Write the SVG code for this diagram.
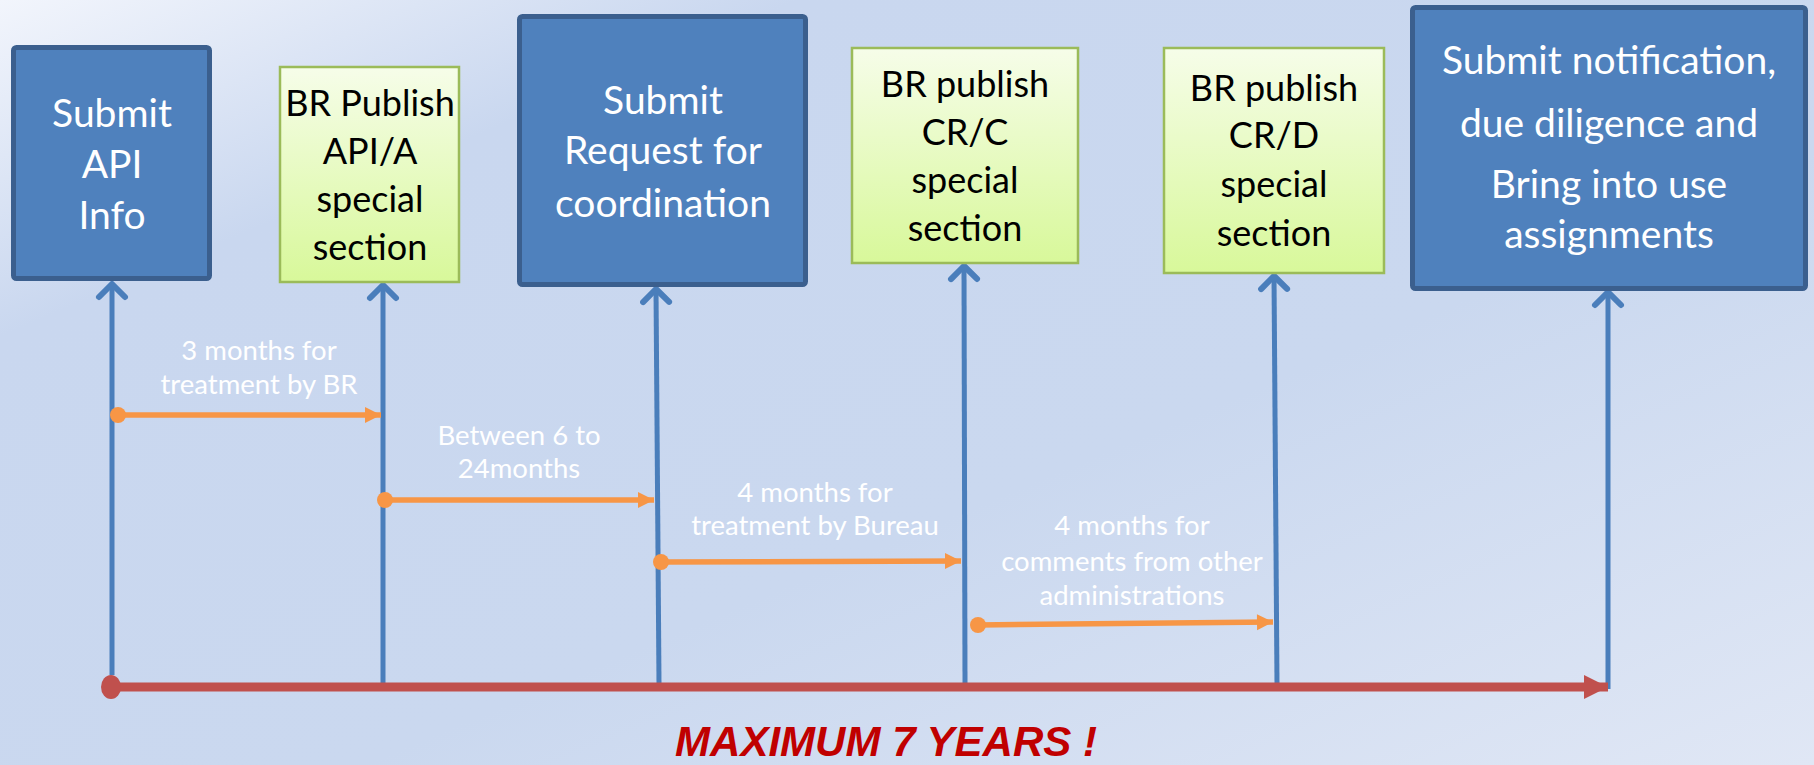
<svg xmlns="http://www.w3.org/2000/svg" width="1814" height="765" viewBox="0 0 1814 765">
<defs>
<linearGradient id="bg" x1="0" y1="0" x2="1" y2="1">
<stop offset="0" stop-color="#f2f5fc"/>
<stop offset="0.22" stop-color="#c9d7ef"/>
<stop offset="0.6" stop-color="#cad8ef"/>
<stop offset="1" stop-color="#e0e7f5"/>
</linearGradient>
<linearGradient id="gr" x1="0" y1="0" x2="0" y2="1">
<stop offset="0" stop-color="#f6fde9"/>
<stop offset="1" stop-color="#d8f89a"/>
</linearGradient>
<marker id="vh" markerUnits="userSpaceOnUse" viewBox="-16 -4 32 28" refX="0" refY="0" markerWidth="32" markerHeight="28" orient="auto-start-reverse" overflow="visible">
<path d="M-13,13 L0,0 L13,13" fill="none" stroke="#4a7ebb" stroke-width="6" stroke-linecap="round" stroke-linejoin="round" transform="rotate(90)"/>
</marker>
<marker id="oh" markerUnits="userSpaceOnUse" viewBox="-16 -9 17 18" refX="0" refY="0" markerWidth="17" markerHeight="18" orient="auto" overflow="visible">
<path d="M-16,-8 L0,0 L-16,8 Z" fill="#f79646"/>
</marker>
<marker id="rh" markerUnits="userSpaceOnUse" viewBox="-24 -13 25 26" refX="0" refY="0" markerWidth="25" markerHeight="26" orient="auto" overflow="visible">
<path d="M-24,-12 L0,0 L-24,12 Z" fill="#c0504d"/>
</marker>
<style>
.blue{fill:#4f81bd;stroke:#3b5f8e;stroke-width:5}
.green{fill:url(#gr);stroke:#9bbb59;stroke-width:2.5}
.bt{font-family:Lato,"Open Sans","Liberation Sans",sans-serif;font-size:39px;fill:#ffffff;text-anchor:middle}
.gt{font-family:Lato,"Open Sans","Liberation Sans",sans-serif;font-size:36px;fill:#000000;text-anchor:middle}
.lt{font-family:Lato,"Open Sans","Liberation Sans",sans-serif;font-size:27.5px;fill:#ffffff;text-anchor:middle}
.vl{stroke:#4a7ebb;stroke-width:5;fill:none}
.ol{stroke:#f79646;stroke-width:5.5;fill:none}
</style>
</defs>
<rect x="0" y="0" width="1814" height="765" fill="url(#bg)"/>

<g id="connectors">
<line class="vl" x1="112" y1="675" x2="112" y2="284" marker-end="url(#vh)"/>
<line class="vl" x1="383" y1="683" x2="383" y2="285" marker-end="url(#vh)"/>
<line class="vl" x1="659" y1="683" x2="656" y2="289" marker-end="url(#vh)"/>
<line class="vl" x1="965" y1="683" x2="964" y2="266" marker-end="url(#vh)"/>
<line class="vl" x1="1277" y1="683" x2="1274" y2="276" marker-end="url(#vh)"/>
<line class="vl" x1="1608" y1="689" x2="1608" y2="292" marker-end="url(#vh)"/>

<line class="ol" x1="118" y1="415" x2="381" y2="415" marker-end="url(#oh)"/>
<circle cx="118" cy="415" r="8" fill="#f79646"/>
<line class="ol" x1="385" y1="500" x2="654" y2="500" marker-end="url(#oh)"/>
<circle cx="385" cy="500" r="8" fill="#f79646"/>
<line class="ol" x1="661" y1="562" x2="961" y2="561" marker-end="url(#oh)"/>
<circle cx="661" cy="562" r="8" fill="#f79646"/>
<line class="ol" x1="978" y1="625" x2="1273" y2="622" marker-end="url(#oh)"/>
<circle cx="978" cy="625" r="8" fill="#f79646"/>

<line x1="111" y1="687" x2="1608" y2="687" stroke="#c0504d" stroke-width="9" marker-end="url(#rh)"/>
<ellipse cx="111" cy="687" rx="10" ry="12" fill="#c0504d"/>
</g>

<g id="node-submit-api">
<rect class="blue" x="13.5" y="47.5" width="196" height="231" rx="3"/>
<text class="bt" x="112" y="127">Submit</text>
<text class="bt" x="112" y="178">API</text>
<text class="bt" x="112" y="229">Info</text>
</g>

<g id="node-publish-api">
<rect class="green" x="280" y="67" width="179" height="215"/>
<text class="gt" x="370" y="116">BR Publish</text>
<text class="gt" x="370" y="164">API/A</text>
<text class="gt" x="370" y="212">special</text>
<text class="gt" x="370" y="260">section</text>
</g>

<g id="node-submit-request">
<rect class="blue" x="519.5" y="16.5" width="286" height="268" rx="3"/>
<text class="bt" x="663" y="114">Submit</text>
<text class="bt" x="663" y="164">Request for</text>
<text class="bt" x="663" y="217">coordination</text>
</g>

<g id="node-publish-crc">
<rect class="green" x="852" y="48" width="226" height="215"/>
<text class="gt" x="965" y="97">BR publish</text>
<text class="gt" x="965" y="145">CR/C</text>
<text class="gt" x="965" y="193">special</text>
<text class="gt" x="965" y="241">section</text>
</g>

<g id="node-publish-crd">
<rect class="green" x="1164" y="48" width="220" height="225"/>
<text class="gt" x="1274" y="101">BR publish</text>
<text class="gt" x="1274" y="148">CR/D</text>
<text class="gt" x="1274" y="197">special</text>
<text class="gt" x="1274" y="246">section</text>
</g>

<g id="node-submit-notification">
<rect class="blue" x="1412.5" y="7.5" width="393" height="281" rx="3"/>
<text class="bt" x="1609" y="74">Submit notification,</text>
<text class="bt" x="1609" y="137">due diligence and</text>
<text class="bt" x="1609" y="198">Bring into use</text>
<text class="bt" x="1609" y="248">assignments</text>
</g>

<g id="labels">
<text class="lt" x="259" y="360">3 months for</text>
<text class="lt" x="259" y="394">treatment by BR</text>
<text class="lt" x="519" y="445">Between 6 to</text>
<text class="lt" x="519" y="478">24months</text>
<text class="lt" x="815" y="502">4 months for</text>
<text class="lt" x="815" y="535">treatment by Bureau</text>
<text class="lt" x="1132" y="535">4 months for</text>
<text class="lt" x="1132" y="571">comments from other</text>
<text class="lt" x="1132" y="605">administrations</text>
</g>

<text x="886" y="756" font-family="'Liberation Sans',Arial,sans-serif" font-size="43" font-weight="bold" font-style="italic" fill="#c00000" text-anchor="middle" textLength="422" lengthAdjust="spacingAndGlyphs">MAXIMUM 7 YEARS !</text>
</svg>
